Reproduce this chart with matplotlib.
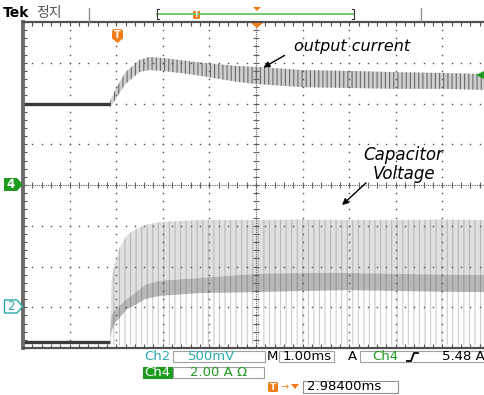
import matplotlib.pyplot as plt
import matplotlib.patches as mpatches
import numpy as np

# scope screen: 10 div x 8 div, time in ms (1.00 ms/div), level in divisions
t_step = 1.87
current_base = 2.0
cap_base = -3.85
cap_floor = -3.93

t_current = [1.87, 1.90, 2.0, 2.2, 2.5, 2.7, 3.0, 3.7, 4.6, 5.0, 6.0, 7.0, 8.0, 9.0, 10.0]
current_hi = [2.06, 2.13, 2.38, 2.77, 3.07, 3.14, 3.12, 3.02, 2.92, 2.90, 2.82, 2.80, 2.77, 2.75, 2.72]
current_lo = [1.91, 1.94, 2.13, 2.48, 2.77, 2.82, 2.80, 2.70, 2.53, 2.48, 2.40, 2.38, 2.36, 2.36, 2.33]

t_cap = [1.87, 1.90, 1.97, 2.08, 2.23, 2.40, 2.62, 2.94, 3.8, 5.0, 6.0, 7.0, 8.0, 9.0, 10.0]
cap_top = [-3.6, -2.33, -1.91, -1.52, -1.23, -1.10, -0.98, -0.91, -0.86, -0.86, -0.85, -0.86, -0.86, -0.85, -0.86]
cap_band_hi = [-3.6, -3.2, -3.07, -2.95, -2.80, -2.65, -2.45, -2.35, -2.28, -2.18, -2.16, -2.16, -2.18, -2.20, -2.21]
cap_band_lo = [-3.85, -3.6, -3.39, -3.25, -3.05, -2.95, -2.80, -2.72, -2.65, -2.63, -2.60, -2.58, -2.60, -2.62, -2.63]

W, H = 485, 395
plt.rcParams['hatch.linewidth'] = 0.8


def fx(x):
    return x / W


def fy(y):
    return 1 - y / H


fig = plt.figure(figsize=(4.85, 3.95), dpi=100)
ax = fig.add_axes([fx(23), fy(348), 466 / W, 326 / H])
ax.set_xlim(0, 10)
ax.set_ylim(-4, 4)

# graticule
minor = np.arange(0, 10.01, 0.2)
yminor = np.arange(-4, 4.01, 0.2)
for gx in range(1, 10):
    if gx == 5:
        continue
    ax.plot([gx] * len(yminor), yminor, ls='none', marker='s', ms=1.0, mew=0, color='#505050')
for gy in range(-3, 4):
    if gy == 0:
        continue
    ax.plot(minor, [gy] * len(minor), ls='none', marker='s', ms=1.0, mew=0, color='#505050')
ax.plot([5, 5], [-4, 4], ls=(0, (1, 1)), lw=0.8, color='#606060')
ax.plot([5] * len(yminor), yminor, ls='none', marker='_', ms=5, mew=0.8, color='#606060')
ax.plot([0, 10], [0, 0], ls=(0, (1, 1)), lw=0.8, color='#606060')
ax.plot(minor, [0] * len(minor), ls='none', marker='|', ms=5, mew=0.8, color='#606060')

# output current trace
ax.plot([0, t_step], [current_base, current_base], color='#3a3a3a', lw=2.4, solid_capstyle='butt')
ax.fill_between(t_current, current_lo, current_hi, facecolor='#cfcfcf', edgecolor='#6a6a6a',
                hatch='||||', linewidth=0)

# capacitor voltage trace
ax.plot([0, t_step], [cap_base, cap_base], color='#3a3a3a', lw=2.4, solid_capstyle='butt')
ax.fill_between(t_cap, cap_floor, cap_top, facecolor='white', edgecolor='#cccccc',
                hatch='|||', linewidth=0)
ax.fill_between(t_cap, cap_band_hi, cap_top, facecolor='#e0e0e0', edgecolor='#b8b8b8',
                hatch='|||', linewidth=0)
ax.fill_between(t_cap, cap_band_lo, cap_band_hi, facecolor='#b8b8b8', edgecolor='#959595',
                hatch='|||', linewidth=0)

# frame
ax.set_xticks(minor)
ax.set_yticks(yminor)
ax.set_xticklabels([])
ax.set_yticklabels([])
ax.tick_params(direction='in', length=3, width=0.8, color='#505050',
               top=True, bottom=True, left=True, right=False)
for s in ['top', 'bottom']:
    ax.spines[s].set_linewidth(1.6)
    ax.spines[s].set_color('#505050')
ax.spines['left'].set_linewidth(2.8)
ax.spines['left'].set_color('#6a6a6a')
ax.spines['right'].set_visible(False)

# top status bar
fig.text(fx(3), fy(13), 'Tek', fontsize=10, fontweight='bold', va='center', ha='left')
fig.text(fx(36), fy(13), '정지', fontsize=10, color='#555555', va='center', ha='left',
         family=['Noto Sans CJK KR', 'DejaVu Sans'])
for xx in [89, 421]:
    fig.add_artist(plt.Line2D([fx(xx), fx(xx)], [fy(8), fy(21)], color='#909090', lw=1))
fig.add_artist(plt.Line2D([fx(157), fx(354)], [fy(14), fy(14)], color='#66c466', lw=1.3))
fig.add_artist(plt.Line2D([fx(157), fx(157), fx(159)], [fy(9), fy(19), fy(19)], color='#333333', lw=0.8))
fig.add_artist(plt.Line2D([fx(157), fx(159)], [fy(9), fy(9)], color='#333333', lw=0.8))
fig.add_artist(plt.Line2D([fx(352), fx(354), fx(354), fx(352)], [fy(9), fy(9), fy(19), fy(19)],
                          color='#333333', lw=0.8))
fig.add_artist(mpatches.FancyBboxPatch((fx(193), fy(19)), fx(7), 9 / H,
                                       boxstyle='round,pad=0,rounding_size=0.004',
                                       transform=fig.transFigure, facecolor='#f07d1a', edgecolor='none'))
fig.text(fx(196.5), fy(14.5), 'T', fontsize=5.5, color='white', fontweight='bold', ha='center', va='center')
fig.add_artist(mpatches.Polygon([(fx(253), fy(7)), (fx(261), fy(7)), (fx(257), fy(11))],
                                transform=fig.transFigure, facecolor='#f07d1a', edgecolor='none'))
fig.add_artist(mpatches.Polygon([(fx(251), fy(23)), (fx(263), fy(23)), (fx(257), fy(28))],
                                transform=fig.transFigure, facecolor='#f07d1a', edgecolor='none'))

# trigger T marker
fig.add_artist(mpatches.FancyBboxPatch((fx(112), fy(40)), fx(11), 11 / H,
                                       boxstyle='round,pad=0,rounding_size=0.006',
                                       transform=fig.transFigure, facecolor='#f07d1a', edgecolor='none'))
fig.add_artist(mpatches.Polygon([(fx(114), fy(40)), (fx(121), fy(40)), (fx(117.5), fy(43))],
                                transform=fig.transFigure, facecolor='#f07d1a', edgecolor='none'))
fig.text(fx(117.5), fy(34.5), 'T', fontsize=7, color='white', fontweight='bold', ha='center', va='center')

# channel markers
fig.add_artist(mpatches.Polygon([(fx(4), fy(178)), (fx(17), fy(178)), (fx(23), fy(184.5)),
                                 (fx(17), fy(191)), (fx(4), fy(191))],
                                transform=fig.transFigure, facecolor='#1e9a1e', edgecolor='none'))
fig.text(fx(11), fy(184.5), '4', fontsize=8.5, color='white', fontweight='bold', ha='center', va='center')
fig.add_artist(mpatches.Polygon([(fx(4.5), fy(300)), (fx(17), fy(300)), (fx(22.5), fy(306.5)),
                                 (fx(17), fy(313)), (fx(4.5), fy(313))],
                                transform=fig.transFigure, facecolor='white', edgecolor='#2aa8a8', lw=1))
fig.text(fx(11), fy(306.5), '2', fontsize=8.5, color='#2aa8a8', ha='center', va='center')
fig.add_artist(mpatches.Polygon([(fx(476), fy(75)), (fx(484), fy(71)), (fx(484), fy(79))],
                                transform=fig.transFigure, facecolor='#1e9a1e', edgecolor='none'))
fig.add_artist(plt.Line2D([fx(480), fx(485)], [fy(75), fy(75)], color='#1e9a1e', lw=1.2))

# annotations
fig.text(fx(294), fy(46), 'output current', fontsize=11.5, style='italic', ha='left', va='center',
         family='DejaVu Sans')
fig.add_artist(mpatches.FancyArrowPatch((fx(287), fy(54)), (fx(261), fy(69)), transform=fig.transFigure,
                                        arrowstyle='-|>', mutation_scale=9, lw=1, color='black'))
fig.text(fx(403), fy(155), 'Capacitor', fontsize=12, style='italic', ha='center', va='center',
         family='DejaVu Sans')
fig.text(fx(404), fy(174), 'Voltage', fontsize=12, style='italic', ha='center', va='center',
         family='DejaVu Sans')
fig.add_artist(mpatches.FancyArrowPatch((fx(368), fy(181)), (fx(340), fy(207)), transform=fig.transFigure,
                                        arrowstyle='-|>', mutation_scale=9, lw=1, color='black'))

# readout boxes
cyan = '#2aa8b0'
green = '#1e9a1e'


def box(x0, y0, x1, y1, fc='white', ec='#a0a0a0'):
    fig.add_artist(mpatches.Rectangle((fx(x0), fy(y1)), fx(x1 - x0), (y1 - y0) / H,
                                      transform=fig.transFigure, facecolor=fc, edgecolor=ec, lw=0.8))


box(173, 351, 265, 362)
box(279, 351, 334, 362)
box(360, 351, 490, 362)
box(143, 367, 172, 378, fc=green, ec=green)
box(173, 367, 264, 378)
box(303, 381, 398, 393, ec='#909090')

fs = 9.5
fig.text(fx(144), fy(357), 'Ch2', fontsize=fs, color=cyan, va='center', ha='left')
fig.text(fx(188), fy(357), '500mV', fontsize=fs, color=cyan, va='center', ha='left')
fig.text(fx(267), fy(357), 'M', fontsize=fs, color='black', va='center', ha='left')
fig.text(fx(283), fy(357), '1.00ms', fontsize=fs, color='black', va='center', ha='left')
fig.text(fx(348), fy(357), 'A', fontsize=fs, color='black', va='center', ha='left')
fig.text(fx(372), fy(357), 'Ch4', fontsize=fs, color=green, va='center', ha='left')
fig.add_artist(plt.Line2D([fx(407), fx(411), fx(414), fx(418)], [fy(361), fy(361), fy(353), fy(353)],
                          color='black', lw=1.3))
fig.text(fx(442), fy(357), '5.48 A', fontsize=fs, color='black', va='center', ha='left')
fig.text(fx(144.5), fy(372.5), 'Ch4', fontsize=fs, color='white', va='center', ha='left')
fig.text(fx(190), fy(372.5), '2.00 A Ω', fontsize=fs, color=green, va='center', ha='left')
fig.add_artist(mpatches.FancyBboxPatch((fx(268), fy(392)), fx(10), 10 / H,
                                       boxstyle='round,pad=0,rounding_size=0.004',
                                       transform=fig.transFigure, facecolor='#f07d1a', edgecolor='none'))
fig.text(fx(273), fy(387), 'T', fontsize=6.5, color='white', fontweight='bold', ha='center', va='center')
fig.text(fx(285), fy(387), '→', fontsize=7, color='#f07d1a', ha='center', va='center')
fig.add_artist(mpatches.Polygon([(fx(291), fy(384)), (fx(299), fy(384)), (fx(295), fy(389))],
                                transform=fig.transFigure, facecolor='#f07d1a', edgecolor='none'))
fig.text(fx(307), fy(387), '2.98400ms', fontsize=fs, color='black', va='center', ha='left')

plt.savefig('out.png', dpi=100)
